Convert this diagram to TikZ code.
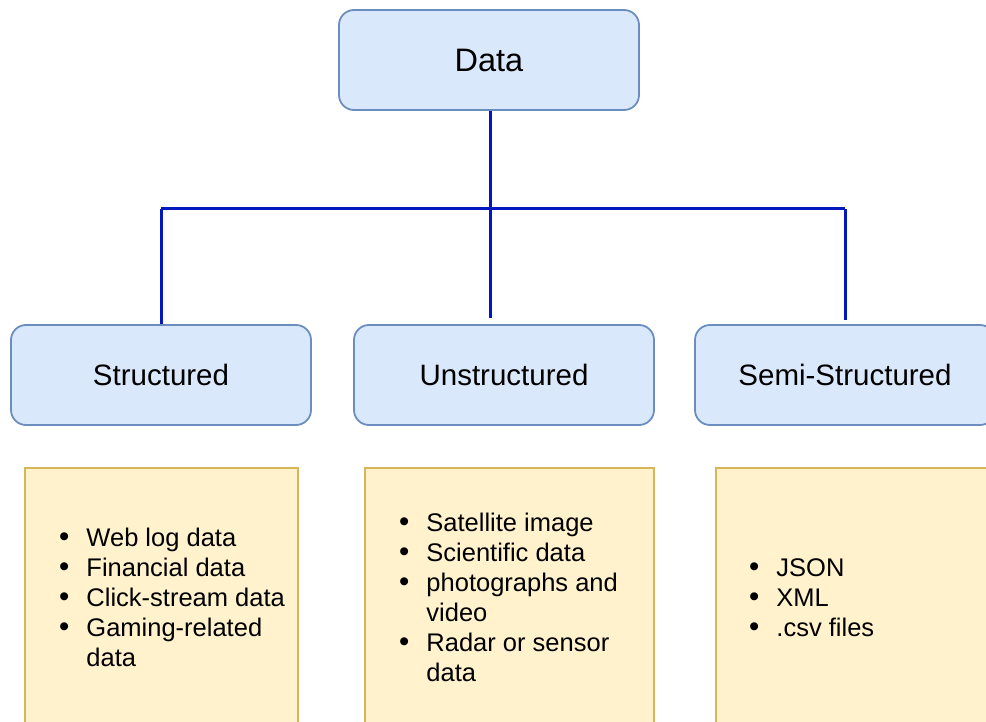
\documentclass[tikz,border=0pt]{standalone}
\usepackage{fontspec}
\setmainfont{Liberation Sans}
\definecolor{bfill}{HTML}{DAE8FC}
\definecolor{bdraw}{HTML}{6C8EBF}
\definecolor{yfill}{HTML}{FFF2CC}
\definecolor{ydraw}{HTML}{D6B656}
\definecolor{linkblue}{RGB}{0,24,190}
\tikzset{
  catbox/.style={draw=bdraw, fill=bfill, line width=1.8pt, rounded corners=15pt,
    minimum width=300pt, minimum height=100pt, inner sep=0pt,
    font=\fontsize{29.5}{34}\selectfont},
  listbox/.style={draw=ydraw, fill=yfill, line width=1.8pt, inner sep=0pt},
  listtext/.style={anchor=west, inner sep=0pt, align=left,
    font=\fontsize{25.5}{30}\selectfont},
  link/.style={draw=linkblue, line width=3pt}
}
\newcommand{\bl}{\raisebox{-0.5pt}{\scalebox{1.15}{\textbullet}}}
\begin{document}
\begin{tikzpicture}[x=1pt,y=-1pt]
\useasboundingbox (0,0) rectangle (986,722);
\clip (0,0) rectangle (986,722);
\fill[white] (0,0) rectangle (986,722);

% category boxes
\node[catbox, font=\fontsize{32.5}{38}\selectfont] (data) at (489,60) {\raisebox{-2pt}{Data}};
\node[catbox] (struct) at (161,375) {Structured};
\node[catbox] (unstruct) at (504,375) {Unstructured};
\node[catbox] (semi) at (845,375) {Semi-Structured};

% connectors
\coordinate (hub) at (490,209);
\coordinate (jl) at (161,209);
\coordinate (jr) at (845,209);
\coordinate (trunkend) at (490,318);
\coordinate (lend) at (161,324);
\coordinate (rend) at (845,320);
\draw[link] (data.south -| hub) -- (trunkend);
\draw[link] (jl) -- (jr);
\draw[link] (jl) -- (lend);
\draw[link] (jr) -- (rend);

% list boxes
\node[listbox, minimum width=273pt, minimum height=280pt, anchor=north west] (l1) at (24,467) {};
\node[listbox, minimum width=289pt, minimum height=280pt, anchor=north west] (l2) at (364,467) {};
\node[listbox, minimum width=290pt, minimum height=280pt, anchor=north west] (l3) at (715,467) {};

% list texts
\node[listtext] (t1) at (59,600) {%
\begin{tabular}{@{}l@{\hspace{17pt}}l@{}}
\bl & Web log data\\
\bl & Financial data\\
\bl & Click-stream data\\
\bl & Gaming-related\\
    & data
\end{tabular}};
\node[listtext] (t2) at (399,600) {%
\begin{tabular}{@{}l@{\hspace{17pt}}l@{}}
\bl & Satellite image\\
\bl & Scientific data\\
\bl & photographs and\\
    & video\\
\bl & Radar or sensor\\
    & data
\end{tabular}};
\node[listtext] (t3) at (749,600) {%
\begin{tabular}{@{}l@{\hspace{17pt}}l@{}}
\bl & JSON\\
\bl & XML\\
\bl & .csv files
\end{tabular}};
\end{tikzpicture}
\end{document}
